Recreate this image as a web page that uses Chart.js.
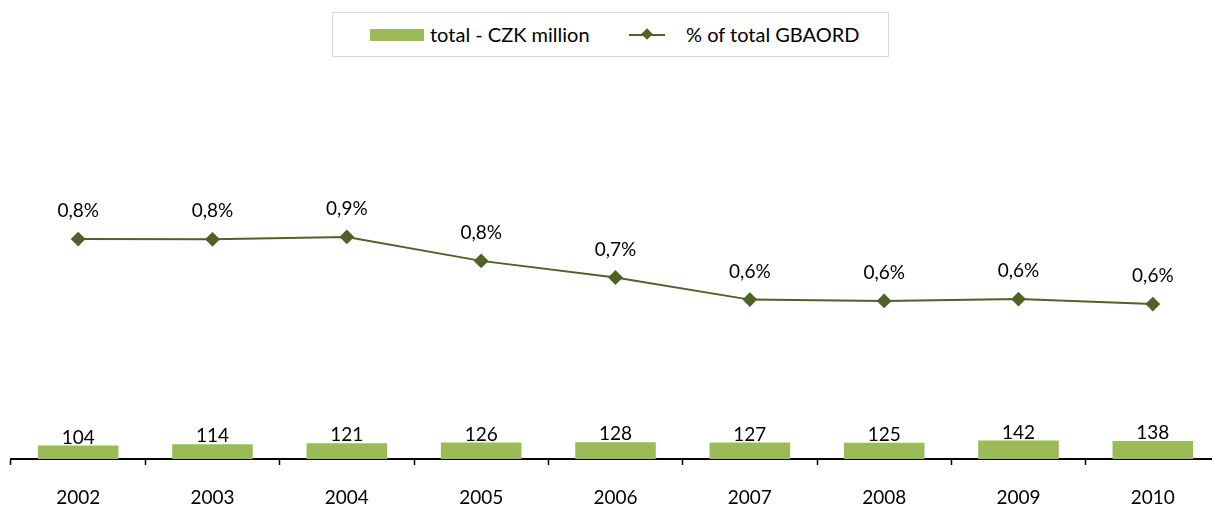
<!DOCTYPE html>
<html>
<head>
<meta charset="utf-8">
<script src="https://cdn.jsdelivr.net/npm/chart.js@4.4.0/dist/chart.umd.min.js"></script>
<style>
    html, body { margin: 0; padding: 0; background: #fff; }
    body { width: 1212px; height: 506px; overflow: hidden; position: relative; font-family: Lato, sans-serif; }
    #wrap { position: absolute; left: 0; top: 0; width: 1228px; height: 530px; }
    #legend {
        position: absolute; left: 332px; top: 12px; width: 555px; height: 43px;
        border: 1px solid #d9d9d9; background: #fff; font-size: 20px; color: #000;
    }
    #legend .item { position: absolute; top: 0; height: 43px; line-height: 43px; white-space: nowrap; }
    #legend .bar-swatch { position: absolute; left: 37px; top: 16px; width: 54px; height: 12px; background: #9BBB59; }
    #legend .line-swatch { position: absolute; left: 296px; top: 21px; width: 36px; height: 2px; background: #4F6228; }
    #legend .diamond { position: absolute; left: 14px; top: -4px; width: 8px; height: 8px; background: #4F6228; transform: rotate(45deg); }
</style>
</head>
<body>
<div id="wrap"><canvas id="myChart" width="1228" height="530"></canvas></div>
<div id="legend">
    <div class="bar-swatch"></div>
    <div class="item" style="left: 97px;">total - CZK million</div>
    <div class="line-swatch"><div class="diamond"></div></div>
    <div class="item" style="left: 353px;">% of total GBAORD</div>
</div>
<script>
// Data
const years = ['2002', '2003', '2004', '2005', '2006', '2007', '2008', '2009', '2010'];
const totalCZK = [104, 114, 121, 126, 128, 127, 125, 142, 138];
const shareGBAORD = [0.846, 0.845, 0.854, 0.762, 0.698, 0.613, 0.608, 0.615, 0.596];

const barColor = '#9BBB59';
const lineColor = '#4F6228';
const fontFamily = 'Lato, sans-serif';

// Value labels drawn above bars and points
const valueLabels = {
    id: 'valueLabels',
    afterDatasetsDraw(chart) {
        const ctx = chart.ctx;
        ctx.save();
        ctx.fillStyle = '#000';
        ctx.textAlign = 'center';
        ctx.textBaseline = 'middle';
        ctx.font = '19px ' + fontFamily;
        chart.data.datasets.forEach((ds, i) => {
            const meta = chart.getDatasetMeta(i);
            meta.data.forEach((el, j) => {
                const v = ds.data[j];
                if (ds.type === 'bar') {
                    ctx.fillText(String(v), el.x, el.y - 8);
                } else {
                    ctx.fillText(v.toFixed(1).replace('.', ',') + '%', el.x, el.y - 28);
                }
            });
        });
        ctx.restore();
    }
};

new Chart(document.getElementById('myChart'), {
    data: {
        labels: years,
        datasets: [
            {
                type: 'line',
                label: '% of total GBAORD',
                data: shareGBAORD,
                yAxisID: 'yPct',
                borderColor: lineColor,
                backgroundColor: lineColor,
                borderWidth: 2,
                pointStyle: 'rectRot',
                pointRadius: 6,
                pointHoverRadius: 6,
                tension: 0,
                order: 1
            },
            {
                type: 'bar',
                label: 'total - CZK million',
                data: totalCZK,
                yAxisID: 'yCzk',
                backgroundColor: barColor,
                barPercentage: 0.6,
                categoryPercentage: 1.0,
                order: 2
            }
        ]
    },
    options: {
        responsive: false,
        animation: false,
        layout: { padding: { left: 11, right: 0, top: 43, bottom: 0 } },
        plugins: {
            legend: { display: false },
            tooltip: { enabled: false }
        },
        scales: {
            x: {
                offset: true,
                grid: {
                    offset: true,
                    drawOnChartArea: false,
                    drawTicks: true,
                    tickLength: 6,
                    tickWidth: 1.5,
                    tickColor: '#000'
                },
                border: { display: true, color: '#000', width: 2 },
                ticks: {
                    color: '#000',
                    padding: 23,
                    maxRotation: 0,
                    font: { family: fontFamily, size: 19, lineHeight: 1 }
                }
            },
            yCzk: { display: false, min: 0, max: 3200 },
            yPct: { display: false, min: 0, max: 1.6 }
        }
    },
    plugins: [valueLabels]
});
</script>
</body>
</html>
